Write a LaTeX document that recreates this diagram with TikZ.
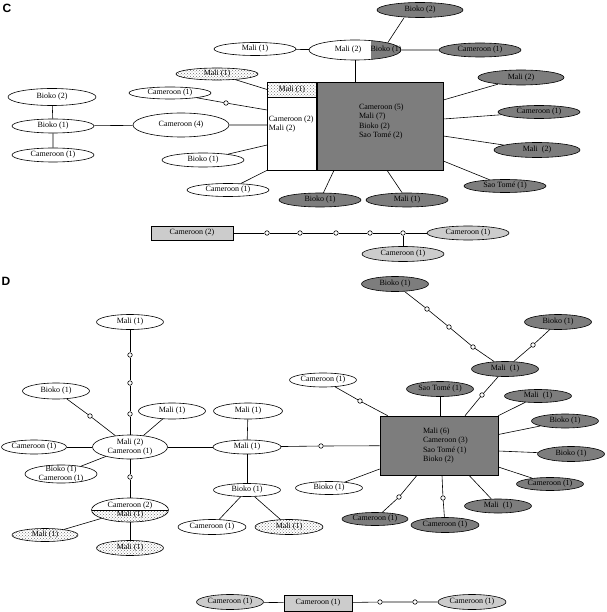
\documentclass[tikz,border=0pt]{standalone}
\usepackage{fontspec}
\setmainfont{Liberation Serif}
\newfontfamily\panelfont{Liberation Sans}
\usetikzlibrary{shapes.geometric,patterns,positioning}
\definecolor{hapdark}{gray}{0.49}
\definecolor{haplight}{gray}{0.8}

\begin{document}
\begin{tikzpicture}[x=1pt, y=-1pt, line width=0.6pt,
    every node/.style={font=\fontsize{8}{9.5}\selectfont},
    hapC/.style={ellipse, draw, inner sep=0pt, minimum width=82pt, minimum height=14pt},
    hapD/.style={ellipse, draw, inner sep=0pt, minimum width=67pt, minimum height=15pt},
    scuro/.style={fill=hapdark},
    chiaro/.style={fill=haplight},
    puntini/.style={pattern=crosshatch dots, pattern color=black!55},
    vuoto/.style={circle, draw, fill=white, inner sep=0pt, minimum size=4.5pt},
    riquadro/.style={rectangle, draw, inner sep=1pt},
    pannello/.style={font={\fontsize{12}{12}\panelfont\bfseries\selectfont}}]

        \useasboundingbox (0,0) rectangle (606,612);

        % 1. Pannello C: aplotipi a sinistra del riquadro
        \node[pannello] (labC) at (7,8) {C};
        \node[hapC, minimum width=88pt, minimum height=17pt] (bioC2) at (52,97) {Bioko (2)};
        \node[hapC] (bioC1) at (53,126) {Bioko (1)};
        \node[hapC] (camC1a) at (53,155) {Cameroon (1)};
        \node[hapC, minimum width=96pt, minimum height=24pt] (camC4) at (181,125) {Cameroon (4)};
        \node[hapC, minimum height=13pt] (maliC1a) at (255,49) {Mali (1)};
        \node[hapC, puntini, minimum height=12pt] (maliC1d) at (217,74) {Mali (1)};
        \node[hapC, minimum height=12pt] (camC1c) at (170,93) {Cameroon (1)};
        \node[vuoto] (vC0) at (226,103) {};
        \node[hapC] (bioC1b) at (203,160) {Bioko (1)};
        \node[hapC, minimum height=13pt] (camC1d) at (228,190) {Cameroon (1)};

        % 2. Riquadro centrale (parte grigia, parte bianca, intestazione a puntini)
        \node[riquadro, fill=hapdark, minimum width=126pt, minimum height=88pt] (boxC) at (380,126) {};
        \node[riquadro, fill=white, minimum width=49pt, minimum height=88pt, left=0pt of boxC] (boxCw) {};
        \node[riquadro, puntini, anchor=north, minimum width=49pt, minimum height=15pt] (hdrC) at (boxCw.north) {Mali (1)};
        \node[align=left, anchor=west, inner sep=1.5pt] (txtCw) at ([yshift=2pt]boxCw.west) {Cameroon (2)\\Mali (2)};
        \node[align=left, anchor=west, inner sep=0pt] (txtC) at ([xshift=42pt, yshift=4.5pt]boxC.west) {Cameroon (5)\\Mali (7)\\Bioko (2)\\Sao Tomé (2)};

        % 3. Ellisse divisa Mali / Bioko e aplotipi a destra
        \node[hapC, minimum width=92pt, minimum height=20pt,
            path picture={\fill[hapdark] ([xshift=16pt]path picture bounding box.south) rectangle (path picture bounding box.north east);}] (maliC2) at (355,50) {};
        \node (txtMaliC2) at (348,50) {Mali (2)};
        \node (txtBioC1) at (386,50) {Bioko (1)};
        \node[hapC, scuro, minimum width=86pt, minimum height=15pt] (bioC2b) at (420,10) {Bioko (2)};
        \node[hapC, scuro] (camC1b) at (480,50) {Cameroon (1)};
        \node[hapC, scuro, minimum width=86pt, minimum height=15pt] (maliC2r) at (521,77.5) {Mali (2)};
        \node[hapC, scuro, minimum height=13pt] (camC1e) at (539,112) {Cameroon (1)};
        \node[hapC, scuro, minimum width=86pt, minimum height=15pt] (maliC2s) at (537,150) {Mali~~(2)};
        \node[hapC, scuro, minimum height=13pt] (saoC1) at (505,186) {Sao Tomé (1)};
        \node[hapC, scuro] (bioC1c) at (320,200) {Bioko (1)};
        \node[hapC, scuro] (maliC1e) at (407,200) {Mali (1)};

        \draw (bioC2) -- (bioC1) -- (camC1a);
        \draw (bioC1) -- (camC4) -- (camC4 -| boxCw.west);
        \draw (maliC1a) -- (maliC2) -- (camC1b);
        \draw (maliC2.north east) -- ([xshift=-16pt]bioC2b.south);
        \draw (maliC2.south) -- (maliC2.south |- boxC.north);
        \draw (maliC1d) -- (hdrC.west);
        \draw (camC1c) -- (vC0) -- ([yshift=16pt]boxCw.west);
        \draw (bioC1b) -- ([yshift=-19pt]boxCw.west);
        \draw (camC1d) -- (boxCw.south west);
        \draw ([yshift=26pt]boxC.east) -- (maliC2r);
        \draw ([yshift=7pt]boxC.east) -- (camC1e);
        \draw ([yshift=-10pt]boxC.east) -- (maliC2s);
        \draw ([yshift=-35pt]boxC.east) -- (saoC1);
        \draw ([xshift=-46pt]boxC.south) -- (bioC1c);
        \draw ([xshift=7pt]boxC.south) -- (maliC1e);

        % 4. Catena in basso del pannello C
        \node[riquadro, chiaro, minimum width=82pt, minimum height=14pt] (camC2r) at (192,233) {Cameroon (2)};
        \foreach \x [count=\i] in {267,300,336,370,403}
            \node[vuoto] (vC\i) at (\x,233) {};
        \node[hapC, chiaro] (camC1f) at (468,233) {Cameroon (1)};
        \node[hapC, chiaro, minimum height=15pt] (camC1g) at (403,254) {Cameroon (1)};
        \draw (camC2r) -- (vC1) -- (vC2) -- (vC3) -- (vC4) -- (vC5) -- (camC1f);
        \draw (vC5) -- (camC1g);

        % 5. Pannello D: rete a sinistra
        \node[pannello] (labD) at (6,281) {D};
        \node[hapD] (maliD1a) at (130,322) {Mali (1)};
        \foreach \y [count=\i] in {355,383,414}
            \node[vuoto] (vD\i) at (130,\y) {};
        \node[hapD, minimum height=16pt] (bioD1a) at (56,391) {Bioko (1)};
        \node[vuoto] (vD4) at (90,416) {};
        \node[hapD, minimum height=16pt] (maliD1b) at (172,411) {Mali (1)};
        \node[hapD, minimum width=69pt, minimum height=16pt] (maliD1c) at (248,411) {Mali (1)};
        \node[hapD, minimum width=75pt, minimum height=24pt, inner ysep=-2pt, align=center] (maliD2) at (130,447) {Mali (2)\\Cameroon (1)};
        \node[hapD, minimum width=65pt, minimum height=14pt] (camD1a) at (34,447) {Cameroon (1)};
        \node[hapD, minimum width=72pt, minimum height=18pt, inner ysep=-2pt, align=center] (bioD1b) at (61,474) {Bioko (1)\\Cameroon (1)};
        \node[vuoto] (vD5) at (130,477) {};
        \node[hapD, minimum width=77pt, minimum height=24pt, inner ysep=-2pt, align=center,
            path picture={\fill[puntini] (path picture bounding box.west) rectangle (path picture bounding box.south east);
                \draw (path picture bounding box.west) -- (path picture bounding box.east);}] (camD2) at (130,510) {Cameroon (2)\\Mali (1)};
        \node[hapD, puntini, minimum width=66pt, minimum height=13pt] (maliD1d) at (45,535) {Mali (1)};
        \node[hapD, puntini] (maliD1e) at (130,548) {Mali (1)};
        \node[hapD, minimum width=68pt, minimum height=14pt] (maliD1f) at (247,447) {Mali (1)};
        \node[vuoto] (vD6) at (321,446) {};
        \node[hapD, minimum height=13pt] (bioD1c) at (247,490) {Bioko (1)};
        \node[hapD, minimum width=68pt] (camD1b) at (212,527) {Cameroon (1)};
        \node[hapD, puntini, minimum width=68pt] (maliD1g) at (289,527) {Mali (1)};

        % 6. Riquadro del pannello D e aplotipi intorno
        \node[riquadro, fill=hapdark, minimum width=118pt, minimum height=59pt] (boxD) at (439,445.5) {};
        \node[align=left, anchor=west, inner sep=0pt] (txtD) at ([xshift=43pt]boxD.west) {Mali (6)\\Cameroon (3)\\Sao Tomé (1)\\Bioko (2)};
        \node[hapD, minimum height=13pt] (bioD1d) at (329,488) {Bioko (1)};
        \node[hapD, minimum height=14pt] (camD1c) at (323,380) {Cameroon (1)};
        \node[vuoto] (vD7) at (360,401) {};
        \node[hapD, scuro] (saoD1) at (440,389) {Sao Tomé (1)};
        \node[hapD, scuro] (maliD1h) at (505,369) {Mali~~(1)};
        \node[vuoto] (vD8) at (482,395) {};
        \node[hapD, scuro] (bioD1e) at (395,284) {Bioko (1)};
        \foreach \x/\y [count=\i from 9] in {427/309,449/327,473/347}
            \node[vuoto] (vD\i) at (\x,\y) {};
        \node[hapD, scuro] (bioD1f) at (558,322) {Bioko (1)};
        \node[vuoto] (vD12) at (533,345) {};
        \node[hapD, scuro, minimum height=13pt] (maliD1i) at (538,396) {Mali~~(1)};
        \node[hapD, scuro, minimum height=14pt] (bioD1g) at (565,421) {Bioko (1)};
        \node[hapD, scuro] (bioD1h) at (571,454) {Bioko (1)};
        \node[hapD, scuro, minimum height=13pt] (camD1d) at (550,484) {Cameroon (1)};
        \node[hapD, scuro, minimum height=14pt] (maliD1j) at (498,506) {Mali~~(1)};
        \node[hapD, scuro, minimum width=68pt] (camD1e) at (445,525) {Cameroon (1)};
        \node[vuoto] (vD13) at (443,498) {};
        \node[hapD, scuro, minimum width=66pt, minimum height=13pt] (camD1f) at (375,519) {Cameroon (1)};
        \node[vuoto] (vD14) at (399,497) {};

        \draw (maliD1a) -- (vD1) -- (vD2) -- (vD3) -- (maliD2);
        \draw (bioD1a) -- (vD4) -- (maliD2);
        \draw (maliD1b) -- (maliD2);
        \draw (camD1a) -- (maliD2);
        \draw (bioD1b) -- (maliD2);
        \draw (maliD2) -- (vD5) -- (camD2);
        \draw (camD2) -- (maliD1d);
        \draw (camD2) -- (maliD1e);
        \draw (maliD2) -- (maliD1f);
        \draw (maliD1c) -- (maliD1f);
        \draw (maliD1f) -- (vD6) -- (boxD);
        \draw (maliD1f) -- (bioD1c);
        \draw (bioD1c) -- (camD1b);
        \draw (bioD1c) -- (maliD1g);
        \draw (bioD1d) -- ([yshift=-23.5pt]boxD.west);
        \draw (camD1c) -- (vD7) -- ([xshift=8pt]boxD.north west);
        \draw (saoD1) -- (saoD1.south |- boxD.north);
        \draw (bioD1e) -- (vD9) -- (vD10) -- (vD11) -- (maliD1h);
        \draw (bioD1f) -- (vD12) -- (maliD1h);
        \draw (maliD1h) -- (vD8) -- ([xshift=26pt]boxD.north);
        \draw (boxD.north east) -- (maliD1i);
        \draw ([yshift=11pt]boxD.east) -- (bioD1g);
        \draw ([yshift=-5.5pt]boxD.east) -- (bioD1h);
        \draw ([yshift=-21.5pt]boxD.east) -- (camD1d);
        \draw ([xshift=30pt]boxD.south) -- (maliD1j);
        \draw ([xshift=3pt]boxD.south) -- (vD13) -- (camD1e);
        \draw ([xshift=-22pt]boxD.south) -- (vD14) -- (camD1f);

        % 7. Catena in basso del pannello D
        \node[hapD, chiaro] (camD1g) at (230,602) {Cameroon (1)};
        \node[riquadro, chiaro, minimum width=68pt, minimum height=16pt] (camD1r) at (318,603) {Cameroon (1)};
        \node[vuoto] (vD15) at (380,602) {};
        \node[vuoto] (vD16) at (415,602) {};
        \node[hapD, chiaro, minimum width=68pt] (camD1h) at (472,602) {Cameroon (1)};
        \draw (camD1g) -- (camD1r) -- (vD15) -- (vD16) -- (camD1h);

    \end{tikzpicture}
\end{document}
